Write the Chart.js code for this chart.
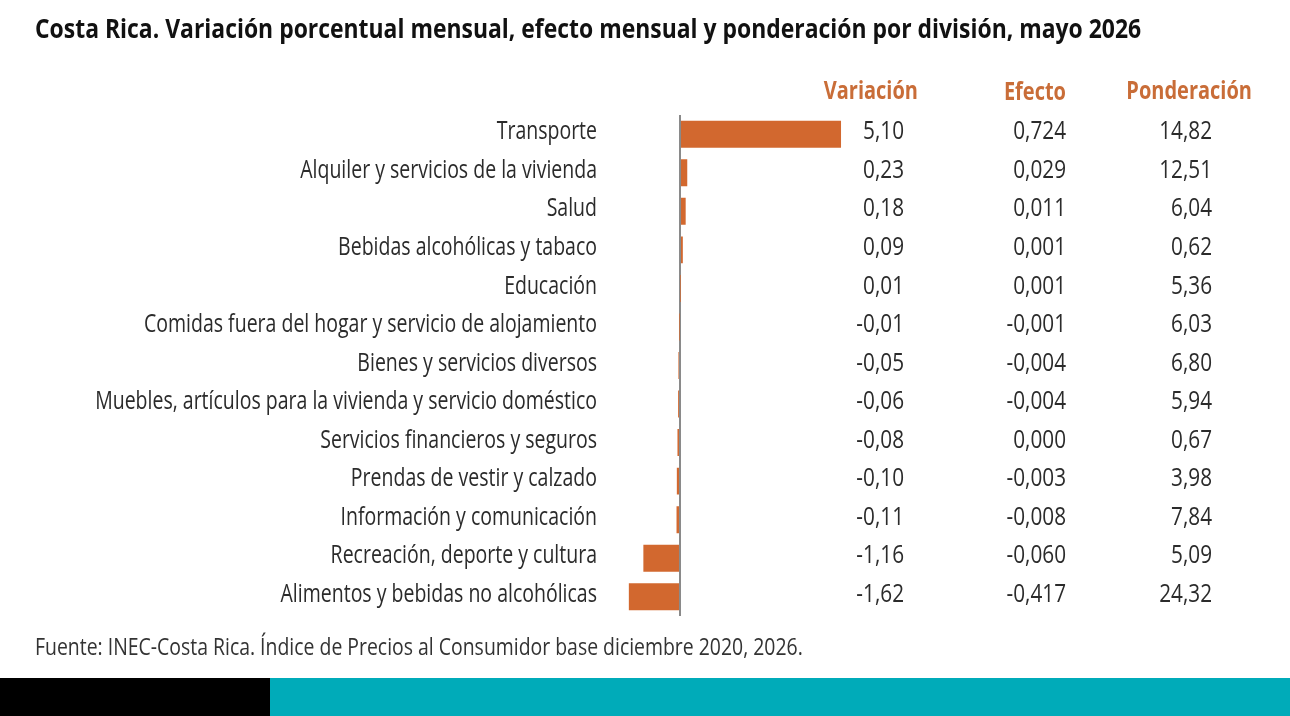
<!DOCTYPE html>
<html>
<head>
<meta charset="utf-8">
<script src="https://cdn.jsdelivr.net/npm/chart.js@4.4.1/dist/chart.umd.min.js"></script>
<style>
  html, body { margin: 0; padding: 0; background: #fff; width: 1290px; height: 716px; overflow: hidden; }
  body { position: relative; font-family: "Open Sans", sans-serif; }
  #chart { position: absolute; left: 0; top: 0; }
  #title { position: absolute; left: 35px; top: 9px; font-size: 27px; font-weight: bold; color: #111; white-space: nowrap; transform-origin: 0 0; }
  #foot { position: absolute; left: 35px; top: 629px; font-size: 24px; color: #333; white-space: nowrap; transform-origin: 0 0; }
  .band { position: absolute; top: 678px; height: 38px; }
</style>
</head>
<body>
<canvas id="chart" width="1290" height="716"></canvas>
<div id="title">Costa Rica. Variación porcentual mensual, efecto mensual y ponderación por división, mayo 2026</div>
<div id="foot">Fuente: INEC-Costa Rica. Índice de Precios al Consumidor base diciembre 2020, 2026.</div>
<div class="band" style="left:0;width:270px;background:#000;"></div>
<div class="band" style="left:270px;width:1020px;background:#00abb9;"></div>
<script>
const FONT = '"Open Sans", sans-serif';

const categories = [
  'Transporte',
  'Alquiler y servicios de la vivienda',
  'Salud',
  'Bebidas alcohólicas y tabaco',
  'Educación',
  'Comidas fuera del hogar y servicio de alojamiento',
  'Bienes y servicios diversos',
  'Muebles, artículos para la vivienda y servicio doméstico',
  'Servicios financieros y seguros',
  'Prendas de vestir y calzado',
  'Información y comunicación',
  'Recreación, deporte y cultura',
  'Alimentos y bebidas no alcohólicas'
];
const variacion = [5.10, 0.23, 0.18, 0.09, 0.01, -0.01, -0.05, -0.06, -0.08, -0.10, -0.11, -1.16, -1.62];
const efecto = [0.724, 0.029, 0.011, 0.001, 0.001, -0.001, -0.004, -0.004, 0.000, -0.003, -0.008, -0.060, -0.417];
const ponderacion = [14.82, 12.51, 6.04, 0.62, 5.36, 6.03, 6.80, 5.94, 0.67, 3.98, 7.84, 5.09, 24.32];
const headers = ['Variación', 'Efecto', 'Ponderación'];

// no condensed font installed, so text is squeezed sideways
const SX = 0.8;
const SX_LABELS = 0.78;

function fmt(v, d) {
  return v.toFixed(d).replace('.', ',');
}

function fit(id, w) {
  const el = document.getElementById(id);
  el.style.transform = 'scaleX(' + (w / el.scrollWidth) + ')';
}
fit('title', 1106);
fit('foot', 768);

function squeezedText(ctx, text, x, y, sx) {
  ctx.save();
  ctx.translate(x, y);
  ctx.scale(sx, 1);
  ctx.fillText(text, 0, 0);
  ctx.restore();
}

const columnsPlugin = {
  id: 'columns',
  afterUpdate(chart) {
    const s = chart.scales.y;
    if (s._squeezed) return;
    s._squeezed = true;
    s._computeLabelArea = () => null; // no clipping, the labels are squeezed afterwards
    const orig = s.drawLabels;
    s.drawLabels = function (area) {
      const ctx = this.ctx;
      const x0 = this.right - this.options.ticks.padding;
      ctx.save();
      ctx.translate(x0, 0);
      ctx.scale(SX_LABELS, 1);
      ctx.translate(-x0, 0);
      orig.call(this, area);
      ctx.restore();
    };
  },
  afterDatasetsDraw(chart) {
    const ctx = chart.ctx;
    const y = chart.scales.y;
    ctx.save();
    ctx.textAlign = 'right';
    ctx.textBaseline = 'middle';
    ctx.font = 'bold 25px ' + FONT;
    ctx.fillStyle = '#c96d38';
    squeezedText(ctx, headers[0], 918, 92, SX);
    squeezedText(ctx, headers[1], 1066, 93, SX);
    squeezedText(ctx, headers[2], 1252, 92, SX);
    ctx.font = '25px ' + FONT;
    ctx.fillStyle = '#2b2b2b';
    categories.forEach((c, i) => {
      const py = y.getPixelForValue(i) - 2;
      squeezedText(ctx, fmt(variacion[i], 2), 904, py, 0.83);
      squeezedText(ctx, fmt(efecto[i], 3), 1066, py, 0.83);
      squeezedText(ctx, fmt(ponderacion[i], 2), 1212, py, 0.83);
    });
    ctx.restore();
  }
};

new Chart(document.getElementById('chart'), {
  type: 'bar',
  data: {
    labels: categories,
    datasets: [{
      data: variacion,
      backgroundColor: '#d2682f',
      categoryPercentage: 0.7,
      barPercentage: 1
    }]
  },
  options: {
    indexAxis: 'y',
    responsive: false,
    animation: false,
    layout: { padding: { top: 115, bottom: 100, left: 0, right: 439.5 } },
    plugins: { legend: { display: false }, tooltip: { enabled: false } },
    scales: {
      x: {
        min: -1.9,
        max: 5.4,
        ticks: { display: false, stepSize: 1 },
        border: { display: false },
        grid: {
          drawTicks: false,
          lineWidth: 2,
          color: c => (c.tick && c.tick.value === 0) ? '#8a8a8a' : 'rgba(0,0,0,0)'
        },
        afterFit: s => { s.height = 0; }
      },
      y: {
        ticks: { crossAlign: 'near', padding: 23, labelOffset: -2, color: '#2b2b2b', font: { family: FONT, size: 25 } },
        grid: { display: false, drawTicks: false },
        border: { display: false },
        afterFit: s => { s.width = 620; }
      }
    }
  },
  plugins: [columnsPlugin]
});
</script>
</body>
</html>
